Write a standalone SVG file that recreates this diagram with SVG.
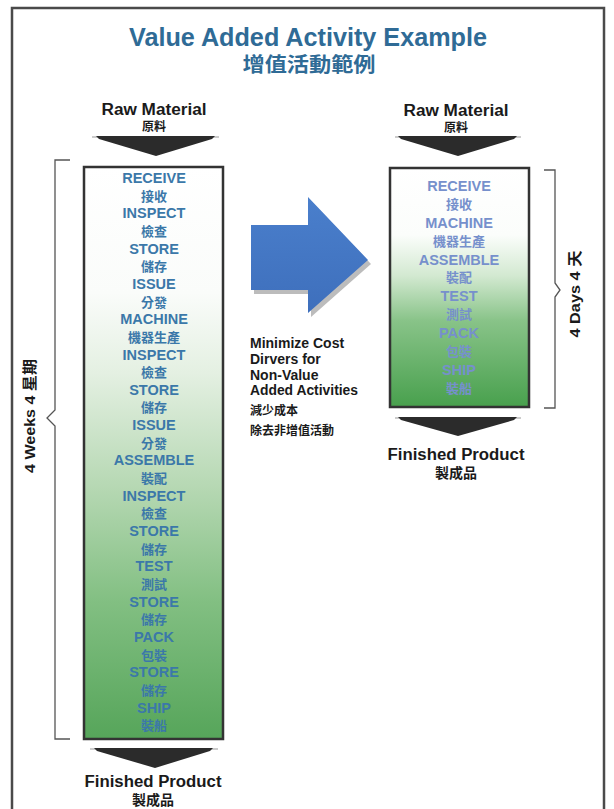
<svg xmlns="http://www.w3.org/2000/svg" width="614" height="809" viewBox="0 0 614 809">
<defs>
<linearGradient id="gL" x1="0" y1="0" x2="0" y2="1">
<stop offset="0" stop-color="#ffffff"/>
<stop offset="0.22" stop-color="#fafcfa"/>
<stop offset="0.36" stop-color="#e4f0e2"/>
<stop offset="0.56" stop-color="#b6d8b3"/>
<stop offset="0.76" stop-color="#82bf82"/>
<stop offset="1" stop-color="#56a55a"/>
</linearGradient>
<linearGradient id="gR" x1="0" y1="0" x2="0" y2="1">
<stop offset="0" stop-color="#ffffff"/>
<stop offset="0.28" stop-color="#fbfdfb"/>
<stop offset="0.45" stop-color="#d3e9d1"/>
<stop offset="0.64" stop-color="#88c388"/>
<stop offset="1" stop-color="#48a04d"/>
</linearGradient>
<linearGradient id="gB" x1="0" y1="0" x2="0" y2="1">
<stop offset="0" stop-color="#4a7fcc"/>
<stop offset="1" stop-color="#3e6fbc"/>
</linearGradient>
</defs>
<style>
.t{font-family:"Liberation Sans",Arial,"Noto Sans CJK TC",sans-serif;font-weight:bold;text-anchor:middle}
.cj{font-family:"Noto Sans CJK TC","Liberation Sans",sans-serif;font-weight:bold;text-anchor:middle}
.title{fill:#2f6b96}
.lb{fill:#1a1a1a}
.st{font-size:14.5px}
.sc{font-size:13px}
.bl{fill:#3b78a9}
.br{fill:#7690cc}
.box{stroke:#333;stroke-width:2.5}
.br-line{fill:none;stroke:#555;stroke-width:1.3}
.tri{fill:#2b2b2b}
.cap{fill:none;stroke:#999;stroke-width:1}
.mid{font-family:"Liberation Sans",Arial,sans-serif;font-weight:bold;font-size:14px;fill:#1a1a1a}
.midc{font-family:"Noto Sans CJK TC",sans-serif;font-weight:bold;font-size:12px;fill:#1a1a1a}
</style>
<rect x="0" y="0" width="614" height="809" fill="#ffffff"/>
<rect id="frame" x="12" y="8" width="592" height="812" fill="none" stroke="#4a4a4a" stroke-width="2.5"/>

<g id="title">
<text class="t title" x="308" y="46" font-size="25" textLength="358" lengthAdjust="spacingAndGlyphs">Value Added Activity Example</text>
<text class="cj title" x="309" y="72" font-size="20" textLength="133" lengthAdjust="spacingAndGlyphs">增值活動範例</text>
</g>

<g id="raw-left">
<text class="t lb" x="154" y="115" font-size="16" textLength="105" lengthAdjust="spacingAndGlyphs">Raw Material</text>
<text class="cj lb" x="154" y="131" font-size="12">原料</text>
</g>
<g id="raw-right">
<text class="t lb" x="456" y="116" font-size="16" textLength="105" lengthAdjust="spacingAndGlyphs">Raw Material</text>
<text class="cj lb" x="456" y="132" font-size="12">原料</text>
</g>

<g id="process-left">
<rect class="box" x="84" y="167" width="139" height="572" fill="url(#gL)"/>
<g class="bl">
<text class="t st" x="154" y="183">RECEIVE</text>
<text class="cj sc" x="154" y="200.6">接收</text>
<text class="t st" x="154" y="218.3">INSPECT</text>
<text class="cj sc" x="154" y="235.9">檢查</text>
<text class="t st" x="154" y="253.6">STORE</text>
<text class="cj sc" x="154" y="271.2">儲存</text>
<text class="t st" x="154" y="288.9">ISSUE</text>
<text class="cj sc" x="154" y="306.5">分發</text>
<text class="t st" x="154" y="324.2">MACHINE</text>
<text class="cj sc" x="154" y="341.8">機器生產</text>
<text class="t st" x="154" y="359.5">INSPECT</text>
<text class="cj sc" x="154" y="377.1">檢查</text>
<text class="t st" x="154" y="394.8">STORE</text>
<text class="cj sc" x="154" y="412.4">儲存</text>
<text class="t st" x="154" y="430.1">ISSUE</text>
<text class="cj sc" x="154" y="447.7">分發</text>
<text class="t st" x="154" y="465.4">ASSEMBLE</text>
<text class="cj sc" x="154" y="483">裝配</text>
<text class="t st" x="154" y="500.7">INSPECT</text>
<text class="cj sc" x="154" y="518.3">檢查</text>
<text class="t st" x="154" y="536">STORE</text>
<text class="cj sc" x="154" y="553.6">儲存</text>
<text class="t st" x="154" y="571.3">TEST</text>
<text class="cj sc" x="154" y="588.9">測試</text>
<text class="t st" x="154" y="606.6">STORE</text>
<text class="cj sc" x="154" y="624.2">儲存</text>
<text class="t st" x="154" y="641.9">PACK</text>
<text class="cj sc" x="154" y="659.5">包裝</text>
<text class="t st" x="154" y="677.2">STORE</text>
<text class="cj sc" x="154" y="694.8">儲存</text>
<text class="t st" x="154" y="712.5">SHIP</text>
<text class="cj sc" x="154" y="730.1">裝船</text>
</g>
</g>

<g id="process-right">
<rect class="box" x="390" y="168" width="139" height="239" fill="url(#gR)"/>
<g class="br">
<text class="t st" x="459" y="191">RECEIVE</text>
<text class="cj sc" x="459" y="209">接收</text>
<text class="t st" x="459" y="227.8">MACHINE</text>
<text class="cj sc" x="459" y="245.5">機器生產</text>
<text class="t st" x="459" y="264.6">ASSEMBLE</text>
<text class="cj sc" x="459" y="282.3">裝配</text>
<text class="t st" x="459" y="301.4">TEST</text>
<text class="cj sc" x="459" y="319.1">測試</text>
<text class="t st" x="459" y="338.2">PACK</text>
<text class="cj sc" x="459" y="355.9">包裝</text>
<text class="t st" x="459" y="375">SHIP</text>
<text class="cj sc" x="459" y="392.7">裝船</text>
</g>
</g>

<g id="finished-left">
<text class="t lb" x="153" y="787" font-size="16" textLength="137" lengthAdjust="spacingAndGlyphs">Finished Product</text>
<text class="cj lb" x="153" y="805" font-size="14">製成品</text>
</g>
<g id="finished-right">
<text class="t lb" x="456" y="460" font-size="16" textLength="137" lengthAdjust="spacingAndGlyphs">Finished Product</text>
<text class="cj lb" x="456" y="478" font-size="14">製成品</text>
</g>

<g id="bracket-left">
<path class="br-line" d="M70,160 H55 V410 L47,418 L55,426 V739 H70"/>
<text class="t lb" transform="translate(35,416) rotate(-90)" font-size="15" textLength="114" lengthAdjust="spacingAndGlyphs">4 Weeks 4 星期</text>
</g>
<g id="bracket-right">
<path class="br-line" d="M544,170 H555 V283 L560,290 L555,297 V408 H544"/>
<text class="t lb" transform="translate(580,294) rotate(-90)" font-size="15" textLength="87" lengthAdjust="spacingAndGlyphs">4 Days 4 天</text>
</g>

<g id="improvement-note">
<text class="mid" x="250" y="348">Minimize Cost</text>
<text class="mid" x="250" y="364">Dirvers for</text>
<text class="mid" x="250" y="380">Non-Value</text>
<text class="mid" x="250" y="395" textLength="108" lengthAdjust="spacingAndGlyphs">Added Activities</text>
<text class="midc" x="250" y="415">減少成本</text>
<text class="midc" x="250" y="435">除去非增值活動</text>
</g>

<g id="connectors">
<path class="cap" d="M92,137 H219"/>
<polygon class="tri" points="96,136 215,136 212,139 156,156 99,139"/>
<path class="cap" d="M395,137 H521"/>
<polygon class="tri" points="398,136 517,136 514,139 458,156 401,139"/>
<path class="cap" d="M395,418 H521"/>
<polygon class="tri" points="398,417 517,417 514,420 458,436 401,420"/>
<path class="cap" d="M90,749 H218"/>
<polygon class="tri" points="94,748 213,748 210,751 155,768 97,751"/>
<polygon points="254,229 311,229 311,201 371,264 311,317 311,294 254,294" fill="#a0a0a0" opacity="0.7"/>
<polygon points="251,225 308,225 308,197 368,260 308,313 308,290 251,290" fill="url(#gB)"/>
</g>
</svg>
